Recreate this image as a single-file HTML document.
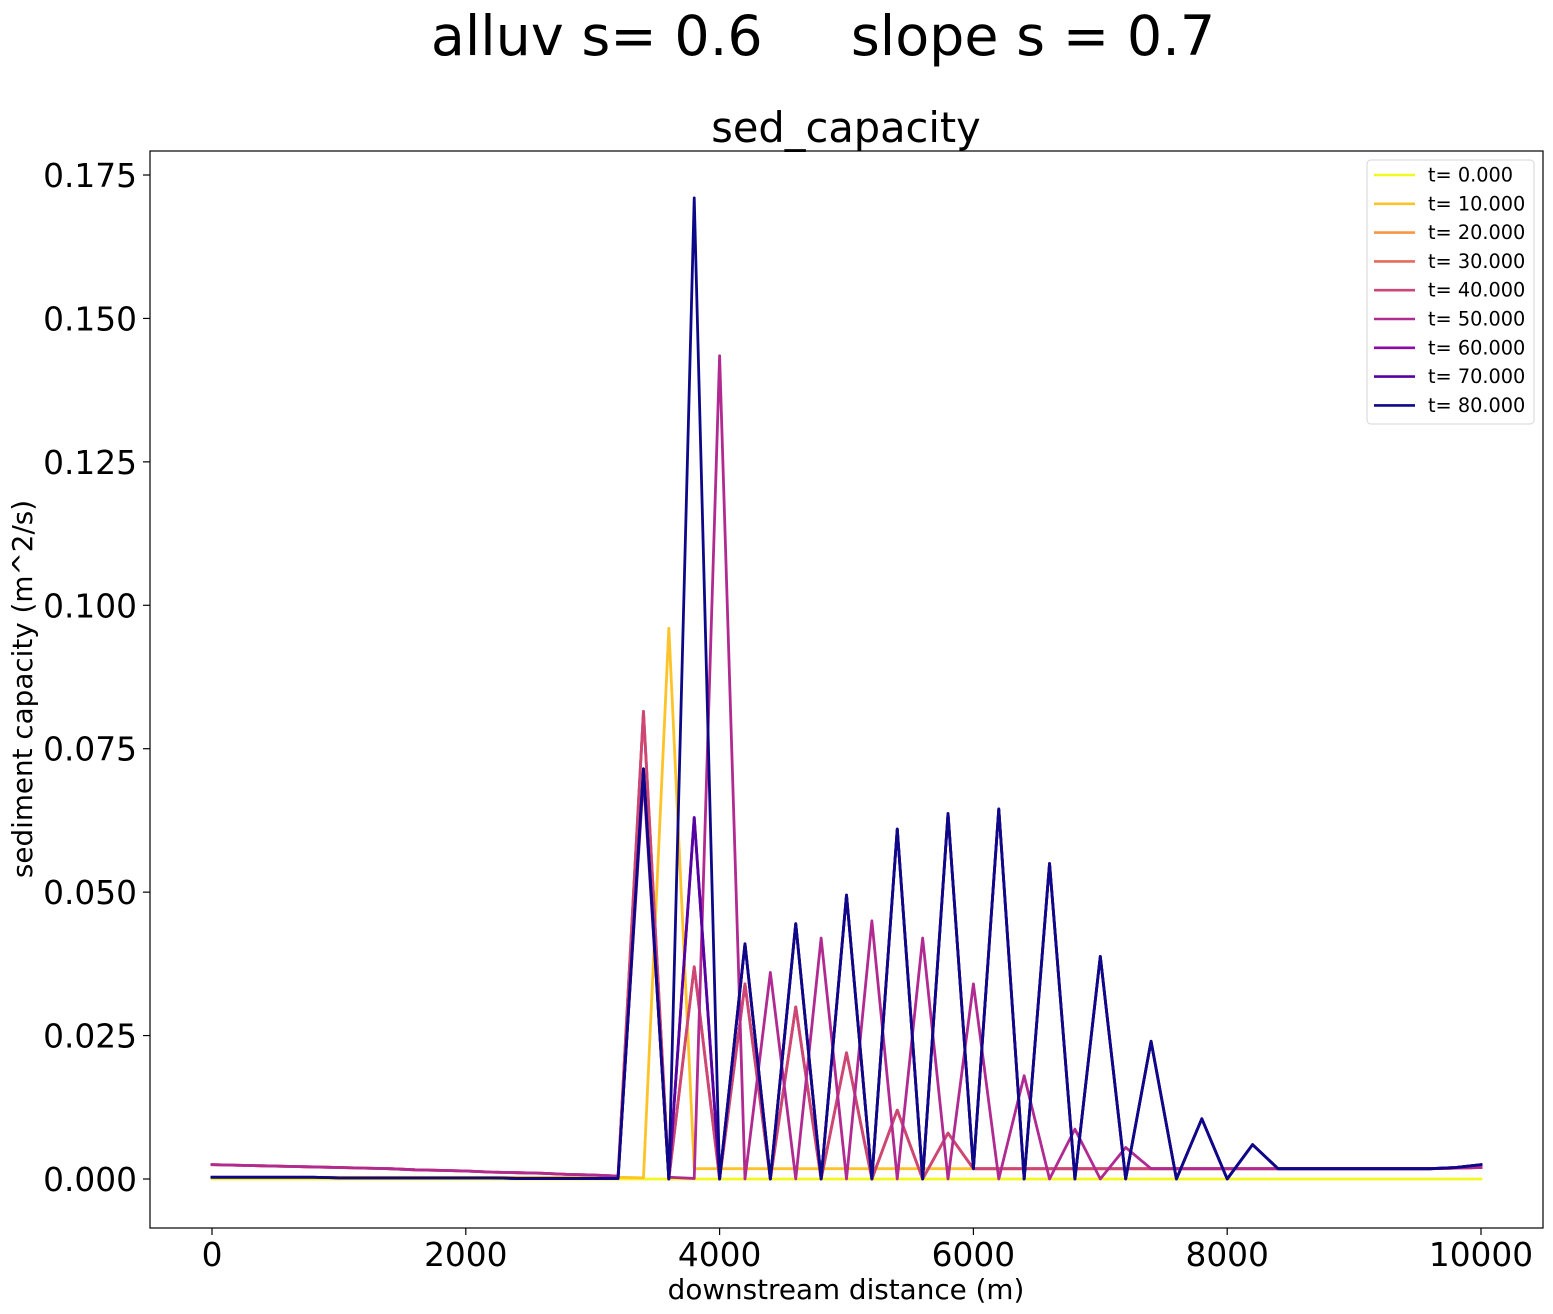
<!DOCTYPE html>
<html><head><meta charset="utf-8"><style>
html,body{margin:0;padding:0;background:#fff}
svg{display:block;font-family:"DejaVu Sans","Liberation Sans",sans-serif}
</style></head><body>
<svg id="chart" width="1553" height="1314" viewBox="0 0 1553 1314">
<text x="823" y="55" font-size="55.5" text-anchor="middle" xml:space="preserve" style="white-space:pre">alluv s= 0.6     slope s = 0.7</text>
<text x="846" y="142" font-size="41.5" text-anchor="middle">sed_capacity</text>
<rect x="150" y="151" width="1393" height="1077" fill="none" stroke="#000" stroke-width="1.2"/>
<g id="series"></g>
<g id="axes"></g>
<text x="846" y="1299" font-size="27.8" text-anchor="middle">downstream distance (m)</text>
<text transform="translate(32,689) rotate(-90)" font-size="27.8" text-anchor="middle">sediment capacity (m^2/s)</text>
<g id="legend"></g>
</svg>
<script>
const xTicks=[0,2000,4000,6000,8000,10000];
const yTicks=[0,0.025,0.05,0.075,0.1,0.125,0.15,0.175];
const yTickLabels=["0.000","0.025","0.050","0.075","0.100","0.125","0.150","0.175"];
const distances=[0,200,400,600,800,1000,1200,1400,1600,1800,2000,2200,2400,2600,2800,3000,3200,3400,3600,3800,4000,4200,4400,4600,4800,5000,5200,5400,5600,5800,6000,6200,6400,6600,6800,7000,7200,7400,7600,7800,8000,8200,8400,8600,8800,9000,9200,9400,9600,9800,10000];
const seriesLabels=["t= 0.000","t= 10.000","t= 20.000","t= 30.000","t= 40.000","t= 50.000","t= 60.000","t= 70.000","t= 80.000"];
const seriesColors=["#f0f921","#fdc328","#fa9543","#e56b5d","#cc4778","#b02a91","#8a0ba5","#5402a3","#0d0887"];
const t0=[0,0,0,0,0,0,0,0,0,0,0,0,0,0,0,0,0,0,0,0,0,0,0,0,0,0,0,0,0,0,0,0,0,0,0,0,0,0,0,0,0,0,0,0,0,0,0,0,0,0,0];
const t10=[0.0003,0.0003,0.0003,0.0003,0.0003,0.0003,0.0003,0.0003,0.0003,0.0003,0.0003,0.0003,0.0003,0.0003,0.0003,0.0003,0.0003,0.0002,0.096,0.0018,0.0018,0.0018,0.0018,0.0018,0.0018,0.0018,0.0018,0.0018,0.0018,0.0018,0.0018,0.0018,0.0018,0.0018,0.0018,0.0018,0.0018,0.0018,0.0018,0.0018,0.0018,0.0018,0.0018,0.0018,0.0018,0.0018,0.0018,0.0018,0.0018,0.0019,0.002];
const t20=[0.0025,0.0024,0.0023,0.0022,0.0021,0.002,0.0019,0.0018,0.0016,0.0015,0.0014,0.0012,0.0011,0.001,0.0008,0.0007,0.0005,0.0815,0,0.037,0,0.034,0,0.030,0,0.022,0,0.012,0,0.008,0.0018,0.0018,0.0018,0.0018,0.0018,0.0018,0.0018,0.0018,0.0018,0.0018,0.0018,0.0018,0.0018,0.0018,0.0018,0.0018,0.0018,0.0018,0.0018,0.0019,0.002];
const t30=[0.0025,0.0024,0.0023,0.0022,0.0021,0.002,0.0019,0.0018,0.0016,0.0015,0.0014,0.0012,0.0011,0.001,0.0008,0.0007,0.0005,0.0815,0,0.037,0,0.034,0,0.030,0,0.022,0,0.012,0,0.008,0.0018,0.0018,0.0018,0.0018,0.0018,0.0018,0.0018,0.0018,0.0018,0.0018,0.0018,0.0018,0.0018,0.0018,0.0018,0.0018,0.0018,0.0018,0.0018,0.0019,0.002];
const t40=[0.0025,0.0024,0.0023,0.0022,0.0021,0.002,0.0019,0.0018,0.0016,0.0015,0.0014,0.0012,0.0011,0.001,0.0008,0.0007,0.0005,0.0815,0,0.037,0,0.034,0,0.030,0,0.022,0,0.012,0,0.008,0.0018,0.0018,0.0018,0.0018,0.0018,0.0018,0.0018,0.0018,0.0018,0.0018,0.0018,0.0018,0.0018,0.0018,0.0018,0.0018,0.0018,0.0018,0.0018,0.0019,0.002];
const t50=[0.0025,0.0024,0.0023,0.0022,0.0021,0.002,0.0019,0.0018,0.0016,0.0015,0.0014,0.0012,0.0011,0.001,0.0008,0.0007,0.0005,0.07,0.0003,0.0001,0.1435,0,0.036,0,0.042,0,0.045,0,0.042,0,0.034,0,0.018,0,0.0087,0,0.0055,0.0018,0.0018,0.0018,0.0018,0.0018,0.0018,0.0018,0.0018,0.0018,0.0018,0.0018,0.0018,0.0019,0.002];
const t60=[0.0003,0.0003,0.0003,0.0003,0.0003,0.0002,0.0002,0.0002,0.0002,0.0002,0.0002,0.0002,0.0001,0.0001,0.0001,0.0001,0.0001,0.0715,0,0.063,0,0.041,0,0.0445,0,0.0495,0,0.061,0,0.0637,0.0018,0.0645,0,0.055,0,0.0388,0,0.024,0,0.0105,0,0.006,0.0018,0.0018,0.0018,0.0018,0.0018,0.0018,0.0018,0.002,0.0025];
const t70=[0.0003,0.0003,0.0003,0.0003,0.0003,0.0002,0.0002,0.0002,0.0002,0.0002,0.0002,0.0002,0.0001,0.0001,0.0001,0.0001,0.0001,0.0715,0,0.063,0,0.041,0,0.0445,0,0.0495,0,0.061,0,0.0637,0.0018,0.0645,0,0.055,0,0.0388,0,0.024,0,0.0105,0,0.006,0.0018,0.0018,0.0018,0.0018,0.0018,0.0018,0.0018,0.002,0.0025];
const t80=[0.0003,0.0003,0.0003,0.0003,0.0003,0.0002,0.0002,0.0002,0.0002,0.0002,0.0002,0.0002,0.0001,0.0001,0.0001,0.0001,0.0001,0.0715,0,0.171,0,0.041,0,0.0445,0,0.0495,0,0.061,0,0.0637,0.0018,0.0645,0,0.055,0,0.0388,0,0.024,0,0.0105,0,0.006,0.0018,0.0018,0.0018,0.0018,0.0018,0.0018,0.0018,0.002,0.0025];
const allSeries=[t0,t10,t20,t30,t40,t50,t60,t70,t80];

const NS="http://www.w3.org/2000/svg";
function xScale(v){return 212+v*(1481-212)/10000;}
function yScale(v){return 1179-v*(1179-175)/0.175;}
function mk(tag,attrs){const e=document.createElementNS(NS,tag);for(const k in attrs)e.setAttribute(k,attrs[k]);return e;}

const axes=document.getElementById('axes');
xTicks.forEach(function(t){
  const x=xScale(t);
  const tk=mk('line',{x1:x,x2:x,y1:1228,y2:1235,stroke:'#000','stroke-width':1.2});
  
  
  axes.appendChild(tk);
  const lb=mk('text',{x:x,y:1266,'font-size':32.8,'text-anchor':'middle'});
  
  
  lb.textContent=String(t);
  axes.appendChild(lb);
});
yTicks.forEach(function(t,i){
  const y=yScale(t);
  const tk=mk('line',{x1:143,x2:150,y1:y,y2:y,stroke:'#000','stroke-width':1.2});
  
  
  axes.appendChild(tk);
  const lb=mk('text',{x:137,y:y+12,'font-size':32.8,'text-anchor':'end'});
  
  
  lb.textContent=yTickLabels[i];
  axes.appendChild(lb);
});

const sg=document.getElementById('series');
allSeries.forEach(function(s,k){
  const pts=s.map(function(v,i){return xScale(distances[i]).toFixed(2)+','+yScale(v).toFixed(2);}).join(' ');
  const pl=mk('polyline',{points:pts,fill:'none',stroke:seriesColors[k],'stroke-width':2.8,'stroke-linejoin':'round','stroke-linecap':'square'});
  
  
  sg.appendChild(pl);
});

const lg=document.getElementById('legend');
const box=mk('rect',{x:1367,y:160,width:167,height:264,rx:4,fill:'#fff','fill-opacity':0.8,stroke:'#d6d6d6','stroke-width':1});


lg.appendChild(box);
seriesLabels.forEach(function(l,k){
  const y=175+k*28.8;
  const ln=mk('line',{x1:1374,x2:1415,y1:y,y2:y,stroke:seriesColors[k],'stroke-width':2.6});
  
  
  lg.appendChild(ln);
  const tx=mk('text',{x:1428,y:y+6.5,'font-size':19.3});
  
  
  tx.textContent=l;
  lg.appendChild(tx);
});
</script>
</body></html>
